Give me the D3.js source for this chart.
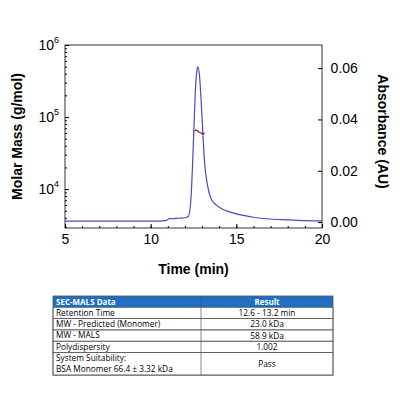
<!DOCTYPE html><html><head><script src="https://d3js.org/d3.v7.min.js"></script>
<style>body{margin:0;background:#fff}</style></head><body><svg id="c" width="400" height="400"></svg>
<script>
const absTime=[5,8,10,10.9,11.1,11.3,11.6,12.0,12.2,12.35,12.5,12.6,12.7,12.76,12.85,12.95,13.05,13.15,13.3,13.5,13.8,14.2,14.6,15,15.5,16,17,18,19,20];
const absVal=[0.0004,0.0004,0.0004,0.0006,0.0014,0.0013,0.0015,0.0017,0.0022,0.009,0.032,0.05,0.059,0.0605,0.057,0.047,0.034,0.023,0.015,0.0095,0.0068,0.005,0.004,0.0032,0.0025,0.0019,0.0012,0.0009,0.0006,0.0005];
const mmTime=[12.55,12.65,12.75,12.85,12.95,13.05,13.15];
const mmVal=[64000,66000,64000,61000,60000,58000,60000];
const xTicks=[5,10,15,20];
const yLeftTicks=[1e4,1e5,1e6];
const yRightTicks=[0,0.02,0.04,0.06];
const tableHead=["SEC-MALS Data","Result"];
const tableRows=[["Retention Time","12.6 - 13.2 min"],["MW - Predicted (Monomer)","23.0 kDa"],["MW - MALS","58.9 kDa"],["Polydispersity","1.002"],["System Suitability:\nBSA Monomer 66.4 ± 3.32 kDa","Pass"]];
const svg=d3.select("#c");
const L=65,R=322,T=45,B=228;
const x=d3.scaleLinear().domain([5,20]).range([L,R]);
const yl=d3.scaleLog().domain([Math.pow(10,3.46),1e6]).range([B,T]);
const yr=d3.scaleLinear().domain([-0.0023,0.0690]).range([B,T]);
const ff="Liberation Sans, Arial, sans-serif";
svg.append("rect").attr("x",L).attr("y",T).attr("width",R-L).attr("height",B-T).attr("fill","none").attr("stroke","#000").attr("stroke-width",0.8);
const xa=svg.append("g").attr("transform",`translate(0,${B})`).call(d3.axisBottom(x).tickValues(xTicks).tickSize(-4).tickFormat(d3.format("d")));
svg.append("g").attr("transform",`translate(0,${B})`).call(d3.axisBottom(x).ticks(15).tickSize(-2).tickFormat(""));
svg.append("g").attr("transform",`translate(${L},0)`).call(d3.axisLeft(yl).tickValues(yLeftTicks).tickSize(-4).tickFormat(""));
yLeftTicks.forEach(v=>{const e=Math.round(Math.log10(v));const t=svg.append("text").attr("x",L-6).attr("y",yl(v)+5).attr("text-anchor","end").attr("font-family",ff).attr("font-size",14);t.append("tspan").text("10");t.append("tspan").attr("dy",-7).attr("font-size",9).text(e);});
svg.append("g").attr("transform",`translate(${L},0)`).call(d3.axisLeft(yl).tickValues([2e3,3e3,4e3,5e3,6e3,7e3,8e3,9e3,2e4,3e4,4e4,5e4,6e4,7e4,8e4,9e4,2e5,3e5,4e5,5e5,6e5,7e5,8e5,9e5].filter(v=>v>yl.domain()[0])).tickSize(-2).tickFormat(""));
const yra=svg.append("g").attr("transform",`translate(${R},0)`).call(d3.axisRight(yr).tickValues(yRightTicks).tickSize(-4).tickFormat(d3.format(".2f")));
svg.selectAll(".domain").remove();
svg.selectAll(".tick text").attr("font-family",ff).attr("font-size",14).attr("fill","#000");
xa.selectAll(".tick text").attr("dy","0.9em");
yra.selectAll(".tick text").attr("dx","0.4em");
svg.append("path").datum(absTime.map((t,i)=>[t,absVal[i]])).attr("fill","none").attr("stroke","#4a4ac0").attr("stroke-width",1.2)
 .attr("d",d3.line().x(d=>x(d[0])).y(d=>yr(d[1])).curve(d3.curveMonotoneX));
svg.append("path").datum(mmTime.map((t,i)=>[t,mmVal[i]])).attr("fill","none").attr("stroke","#8b1a1a").attr("stroke-width",1.2)
 .attr("d",d3.line().x(d=>x(d[0])).y(d=>yl(d[1])));
svg.append("text").attr("x",(L+R)/2).attr("y",274).attr("text-anchor","middle").attr("font-family",ff).attr("font-weight","bold").attr("font-size",14).text("Time (min)");
svg.append("text").attr("transform",`translate(22,${(T+B)/2}) rotate(-90)`).attr("text-anchor","middle").attr("font-family",ff).attr("font-weight","bold").attr("font-size",14).text("Molar Mass (g/mol)");
svg.append("text").attr("transform",`translate(378,${(T+B)/2-5}) rotate(90)`).attr("text-anchor","middle").attr("font-family",ff).attr("font-weight","bold").attr("font-size",14).text("Absorbance (AU)");
const tx=53,tw=280,cx=201,ty=296,rh=11.3;
const tf="Open Sans, sans-serif";
svg.append("rect").attr("x",tx).attr("y",ty).attr("width",tw).attr("height",rh).attr("fill","#1f6ec2");
tableHead.forEach((h,i)=>svg.append("text").attr("x",i?(cx+tx+tw)/2:tx+3).attr("y",ty+8.5).attr("text-anchor",i?"middle":"start").attr("font-family",tf).attr("font-weight","bold").attr("font-size",8).attr("fill","#fff").text(h));
let y=ty+rh;
tableRows.forEach(r=>{const lines=r[0].split("\n");const h=rh*lines.length;
 svg.append("rect").attr("x",tx).attr("y",y).attr("width",tw).attr("height",h).attr("fill","none").attr("stroke","#555").attr("stroke-width",0.7);
 lines.forEach((l,j)=>svg.append("text").attr("x",tx+3).attr("y",y+8.5+j*rh).attr("font-family",tf).attr("font-size",8.3).text(l));
 svg.append("text").attr("x",(cx+tx+tw)/2).attr("y",y+h/2+3).attr("text-anchor","middle").attr("font-family",tf).attr("font-size",8.3).text(r[1]);
 y+=h;});
svg.append("line").attr("x1",cx).attr("x2",cx).attr("y1",ty).attr("y2",y).attr("stroke","#555").attr("stroke-width",0.7);
svg.append("rect").attr("x",tx).attr("y",ty).attr("width",tw).attr("height",y-ty).attr("fill","none").attr("stroke","#555").attr("stroke-width",0.8);
</script></body></html>
